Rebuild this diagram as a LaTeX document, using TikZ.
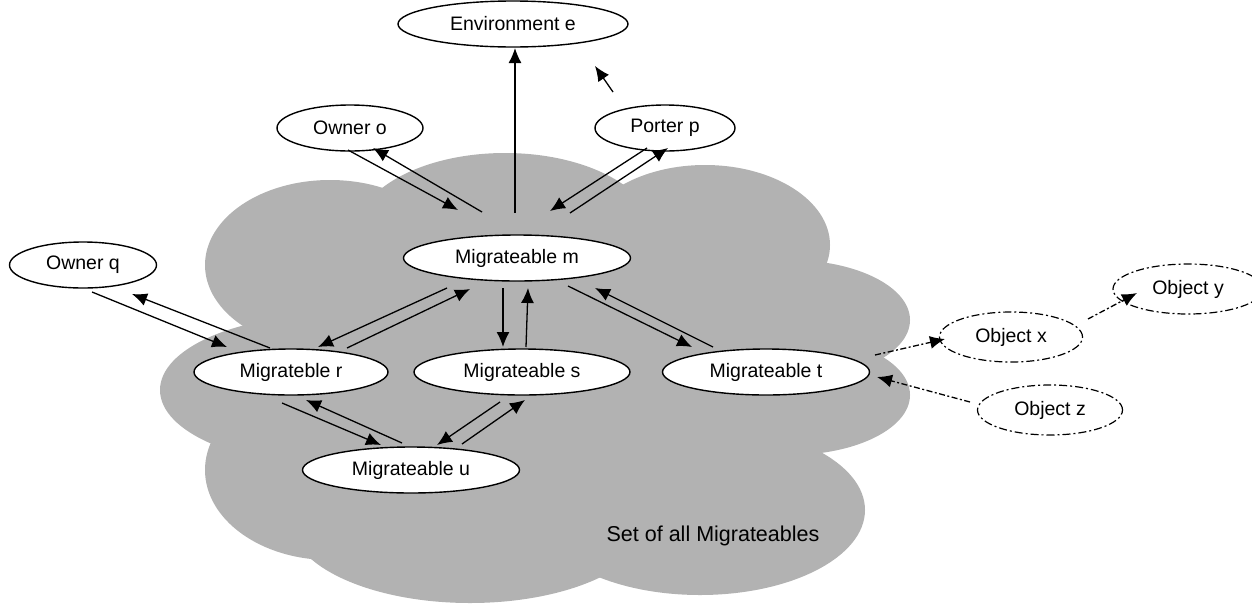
\documentclass[tikz,border=0pt]{standalone}
\usepackage{fontspec}
\setmainfont{Liberation Sans}
\usetikzlibrary{arrows.meta,shapes.geometric,calc}
\definecolor{cloudgray}{RGB}{178,178,178}
\begin{document}
\begin{tikzpicture}[x=1pt,y=-1pt,
  font=\fontsize{19.5}{23}\selectfont,
  obj/.style={ellipse,draw=black,fill=white,line width=1.4pt,inner sep=0pt},
  extobj/.style={ellipse,draw=black,line width=1.2pt,inner sep=0pt,
    dash pattern=on 8pt off 3pt on 2pt off 3pt},
  arr/.style={line width=1.3pt,-{Latex[length=15pt,width=13pt]}},
  darr/.style={line width=1.3pt,dash pattern=on 6pt off 2.5pt on 2pt off 2.5pt,
    -{Latex[length=15pt,width=13pt]}}]
\useasboundingbox (0,0) rectangle (1252,603);

% the set of all migrateables, drawn as a cloud of overlapping lobes
\begin{scope}[cloudgray]
  \fill (540,380) ellipse [x radius=300pt, y radius=170pt];
  \fill (330,265) ellipse [x radius=125pt, y radius=85pt];
  \fill (505,235) ellipse [x radius=150pt, y radius=82pt];
  \fill (705,245) ellipse [x radius=125pt, y radius=80pt];
  \fill (790,320) ellipse [x radius=120pt, y radius=60pt];
  \fill (790,395) ellipse [x radius=120pt, y radius=60pt];
  \fill (700,510) ellipse [x radius=165pt, y radius=85pt];
  \fill (470,520) ellipse [x radius=180pt, y radius=83pt];
  \fill (330,470) ellipse [x radius=125pt, y radius=90pt];
  \fill (330,390) ellipse [x radius=170pt, y radius=75pt];
\end{scope}

% nodes
\node[obj,minimum width=230pt,minimum height=46pt] (e) at (513,24) {Environment e};
\node[obj,minimum width=146pt,minimum height=46pt] (o) at (350,128) {Owner o};
\node[obj,minimum width=140pt,minimum height=46pt] (p) at (665,128) {Porter p};
\node[obj,minimum width=227pt,minimum height=46pt] (m) at (517,258) {Migrateable m};
\node[obj,minimum width=147pt,minimum height=46pt] (q) at (83,265) {Owner q};
\node[obj,minimum width=194pt,minimum height=46pt] (r) at (291,372) {Migrateble r};
\node[obj,minimum width=216pt,minimum height=46pt] (s) at (522,372) {Migrateable s};
\node[obj,minimum width=207pt,minimum height=46pt] (t) at (766,372) {Migrateable t};
\node[obj,minimum width=217pt,minimum height=46pt] (u) at (411,470) {Migrateable u};
\node[extobj,minimum width=143pt,minimum height=50pt] (x) at (1011,337) {Object x};
\node[extobj,minimum width=150pt,minimum height=50pt] (y) at (1188,289) {Object y};
\node[extobj,minimum width=145pt,minimum height=50pt] (z) at (1050,410) {Object z};
\node[font=\fontsize{21.5}{25}\selectfont] (lbl) at (713,536) {Set of all Migrateables};

% connectors
\draw[arr] ($(m)+(-2,-45)$) -- ($(e)+(2,24)$);
\draw[arr] ($(p)+(-52,-36)$) -- ($(e)+(82,42)$);
\draw[arr] ($(o)+(-2,22)$) -- ($(m)+(-59,-48)$);
\draw[arr] ($(m)+(-35,-46)$) -- ($(o)+(23,20)$);
\draw[arr] ($(p)+(-18,20)$) -- ($(m)+(33,-47)$);
\draw[arr] ($(m)+(53,-45)$) -- ($(p)+(3,20)$);
\draw[arr] ($(m)+(-70,30)$) -- ($(r)+(27,-25)$);
\draw[arr] ($(r)+(56,-24)$) -- ($(m)+(-47,31)$);
\draw[arr] ($(m)+(-14,30)$) -- ($(s)+(-19,-25)$);
\draw[arr] ($(s)+(4,-25)$) -- ($(m)+(11,30)$);
\draw[arr] ($(m)+(51,28)$) -- ($(t)+(-74,-25)$);
\draw[arr] ($(t)+(-53,-25)$) -- ($(m)+(78,30)$);
\draw[arr] ($(q)+(9,27)$) -- ($(r)+(-64,-25)$);
\draw[arr] ($(r)+(-21,-24)$) -- ($(q)+(49,29)$);
\draw[arr] ($(r)+(-9,31)$) -- ($(u)+(-30,-25)$);
\draw[arr] ($(u)+(-9,-27)$) -- ($(r)+(15,28)$);
\draw[arr] ($(s)+(-22,30)$) -- ($(u)+(26,-25)$);
\draw[arr] ($(u)+(51,-26)$) -- ($(s)+(3,28)$);
\draw[darr] ($(t)+(109,-17)$) -- ($(x)+(-66,2)$);
\draw[darr] ($(x)+(77,-18)$) -- ($(y)+(-51,4)$);
\draw[darr] ($(z)+(-80,-8)$) -- ($(t)+(111,5)$);
\end{tikzpicture}
\end{document}
